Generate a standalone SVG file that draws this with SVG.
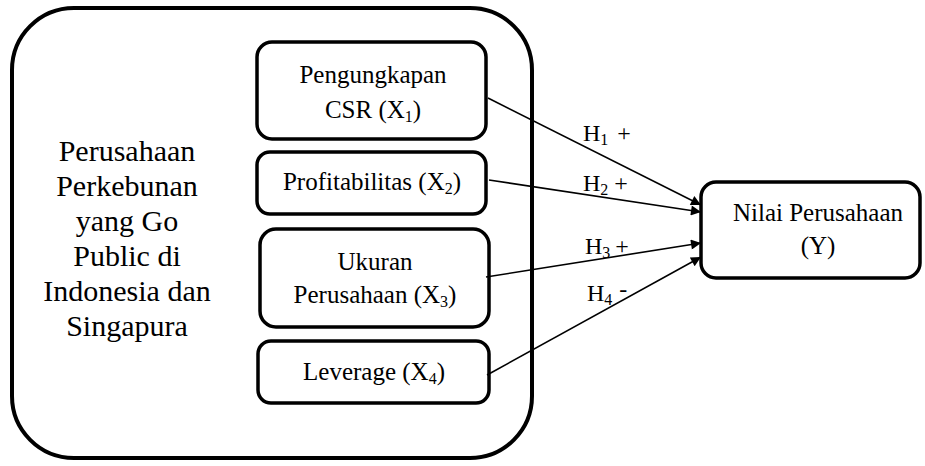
<svg xmlns="http://www.w3.org/2000/svg" width="925" height="466" viewBox="0 0 925 466" font-family="'Liberation Serif', 'DejaVu Serif', 'Times New Roman', serif">
<style>
  .box { fill: #fff; stroke: #000; stroke-width: 3.5; }
  .big { fill: #fff; stroke: #000; stroke-width: 4; }
  text { font-family: 'Liberation Serif', 'DejaVu Serif', 'Times New Roman', serif; fill: #000; }
  .t { font-size: 25px; text-anchor: middle; }
  .l { font-size: 30px; text-anchor: middle; }
  .h { font-size: 24px; }
  .sub { font-size: 16px; }
  .conn line { stroke: #000; stroke-width: 1.6; fill: none; }
</style>
<defs>
  <marker id="arr" viewBox="0 0 10 10" refX="10" refY="5" markerWidth="14" markerHeight="10" markerUnits="userSpaceOnUse" orient="auto">
    <path d="M0,0 L10,5 L0,10 z" fill="#000"/>
  </marker>
</defs>
<g id="container">
  <rect class="big" x="12" y="8" width="520" height="450" rx="62" ry="62"/>
  <text class="l" x="127"><tspan x="127" y="161">Perusahaan</tspan><tspan x="127" y="196">Perkebunan</tspan><tspan x="127" y="231">yang Go</tspan><tspan x="127" y="266">Public di</tspan><tspan x="127" y="301">Indonesia dan</tspan><tspan x="127" y="336">Singapura</tspan></text>
</g>
<g id="x1">
  <rect class="box" x="257" y="42" width="229" height="97" rx="15"/>
  <text class="t" x="373" y="83">Pengungkapan</text>
  <text class="t" x="373" y="118">CSR (X<tspan class="sub" dy="4">1</tspan><tspan dy="-4">)</tspan></text>
</g>
<g id="x2">
  <rect class="box" x="257" y="152" width="229" height="62" rx="13"/>
  <text class="t" x="372" y="190">Profitabilitas (X<tspan class="sub" dy="4">2</tspan><tspan dy="-4">)</tspan></text>
</g>
<g id="x3">
  <rect class="box" x="260" y="229" width="229" height="98" rx="16"/>
  <text class="t" x="375" y="270">Ukuran</text>
  <text class="t" x="375" y="303">Perusahaan (X<tspan class="sub" dy="4">3</tspan><tspan dy="-4">)</tspan></text>
</g>
<g id="x4">
  <rect class="box" x="258" y="341" width="231" height="62" rx="13"/>
  <text class="t" x="374" y="380">Leverage (X<tspan class="sub" dy="4">4</tspan><tspan dy="-4">)</tspan></text>
</g>
<g id="y">
  <rect class="box" x="701" y="182" width="219" height="96" rx="15"/>
  <text class="t" x="818" y="221">Nilai Perusahaan</text>
  <text class="t" x="818" y="254">(Y)</text>
</g>
<g id="connectors" class="conn">
  <line x1="488" y1="98" x2="701" y2="205" marker-end="url(#arr)"/>
  <line x1="489" y1="180" x2="701" y2="212" marker-end="url(#arr)"/>
  <line x1="486" y1="277" x2="701" y2="243" marker-end="url(#arr)"/>
  <line x1="487" y1="375" x2="701" y2="257" marker-end="url(#arr)"/>
  <text class="h" x="583" y="141">H<tspan class="sub" dy="4">1</tspan><tspan dy="-4" dx="9">+</tspan></text>
  <text class="h" x="583" y="191">H<tspan class="sub" dy="4">2</tspan><tspan dy="-4" dx="6">+</tspan></text>
  <text class="h" x="585" y="254">H<tspan class="sub" dy="4">3</tspan><tspan dy="-4" dx="5">+</tspan></text>
  <text class="h" x="587" y="301">H<tspan class="sub" dy="4">4</tspan><tspan dy="-8" dx="7">-</tspan></text>
</g>
</svg>
